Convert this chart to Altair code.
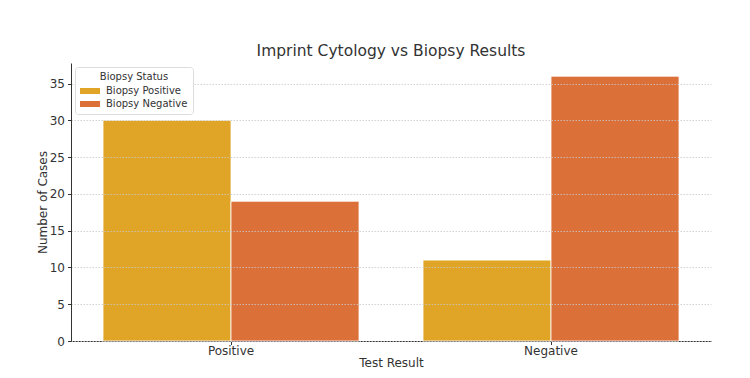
import altair as alt
import pandas as pd

# Counts of cases by imprint cytology result, split by biopsy status
test_results = ["Positive", "Negative"]
biopsy_status = ["Biopsy Positive", "Biopsy Negative"]
biopsy_positive = [30, 11]
biopsy_negative = [19, 36]

colors = ["#E0A526", "#DC7039"]

rows = []
for i, t in enumerate(test_results):
    rows.append({"Test Result": t, "Biopsy Status": biopsy_status[0], "Cases": biopsy_positive[i]})
    rows.append({"Test Result": t, "Biopsy Status": biopsy_status[1], "Cases": biopsy_negative[i]})
df = pd.DataFrame(rows)

font = "DejaVu Sans"

bars = alt.Chart(df).mark_bar(stroke="white", strokeWidth=0.8).encode(
    x=alt.X(
        "Test Result:N",
        sort=test_results,
        scale=alt.Scale(paddingInner=0.2, paddingOuter=0.1),
        axis=alt.Axis(
            title="Test Result",
            labelAngle=0,
            labelFontSize=12,
            titleFontSize=12,
            labelPadding=1,
            titlePadding=1,
            tickSize=3.5,
            domainColor="#333333",
            tickColor="#333333",
            labelColor="#333333",
            titleColor="#333333",
            titleFontWeight="normal",
        ),
    ),
    xOffset=alt.XOffset("Biopsy Status:N", sort=biopsy_status),
    y=alt.Y(
        "Cases:Q",
        scale=alt.Scale(domain=[0, 37.8], nice=False),
        axis=alt.Axis(
            title="Number of Cases",
            values=[0, 5, 10, 15, 20, 25, 30, 35],
            labelFontSize=12,
            titleFontSize=12,
            tickSize=3.5,
            labelPadding=3,
            titlePadding=0,
            grid=True,
            gridColor="#c8c8c8",
            gridDash=[1.5, 1.5],
            gridOpacity=0.8,
            zindex=1,
            domainColor="#333333",
            tickColor="#333333",
            labelColor="#333333",
            titleColor="#333333",
            titleFontWeight="normal",
        ),
    ),
    color=alt.Color(
        "Biopsy Status:N",
        sort=biopsy_status,
        scale=alt.Scale(domain=biopsy_status, range=colors),
        legend=alt.Legend(
            title="Biopsy Status",
            orient="none",
            legendX=4,
            legendY=4,
            symbolType="M-2,-0.6H2V0.6H-2Z",
            symbolSize=100,
            symbolStrokeWidth=0,
            symbolOpacity=1,
            symbolOffset=5,
            titleFontSize=10,
            labelFontSize=10,
            titleFontWeight="normal",
            titleColor="#333333",
            labelColor="#333333",
            strokeColor="#dddddd",
            fillColor="white",
            padding=5,
            cornerRadius=3,
            rowPadding=3,
            titlePadding=4,
            labelOffset=11,
            titleAnchor="middle",
            zindex=2,
        ),
    ),
)

chart = bars.properties(
    width=640,
    height=278,
    title=alt.TitleParams(
        "Imprint Cytology vs Biopsy Results",
        fontSize=15.5,
        fontWeight="normal",
        color="#333333",
        offset=4,
    ),
    autosize=alt.AutoSizeParams(type="none"),
    padding={"left": 71, "top": 63, "right": 39, "bottom": 37},
).configure(font=font).configure_view(stroke=None)

chart.save("out.html", embed_options={"renderer": "svg", "actions": False})
